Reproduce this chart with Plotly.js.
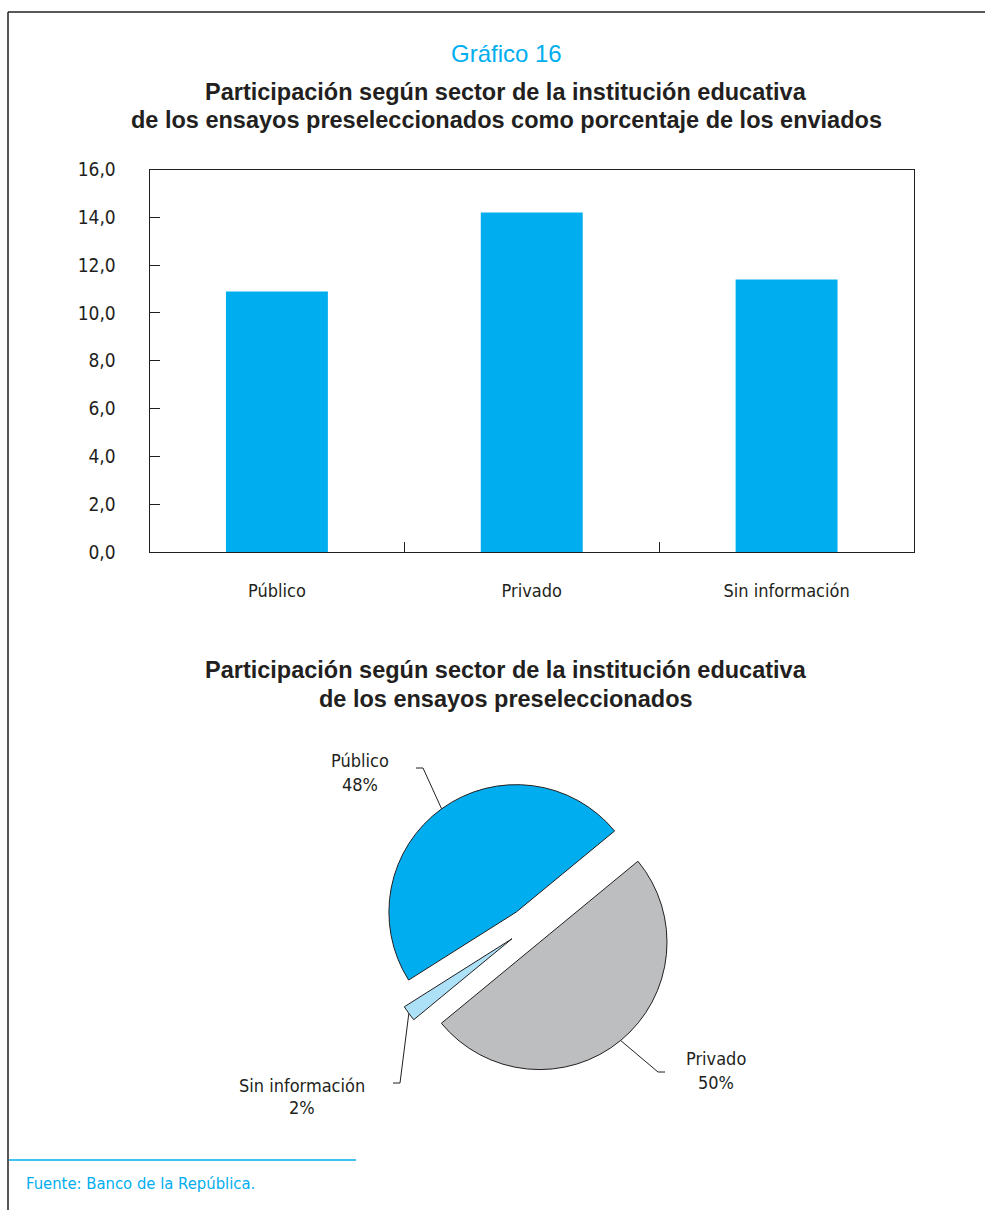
<!DOCTYPE html>
<html>
<head>
<meta charset="utf-8">
<script src="https://cdn.plot.ly/plotly-3.0.1.min.js"></script>
<style>
  html, body { margin: 0; padding: 0; background: #ffffff; }
  #chart { width: 985px; height: 1210px; }
</style>
</head>
<body>
<div id="chart"></div>
<script>
// ---- data ----
const categories = ['Público', 'Privado', 'Sin información'];
const barValues = [10.9, 14.2, 11.4];
const yTickVals = [0, 2, 4, 6, 8, 10, 12, 14, 16];

const pieLabels = ['Privado', 'Sin información', 'Público'];
const pieValues = [50, 2, 48];
const pieColors = ['#BCBEC0', '#ADE1F8', '#00AEEF'];

// ---- layout helpers ----
const W = 985, H = 1210;
const X = px => px / W;
const Y = py => 1 - py / H;

const narrow = '"Liberation Sans Narrow", "DejaVu Sans Condensed", "Arial Narrow", sans-serif';
const sans = '"Liberation Sans", Arial, Helvetica, sans-serif';
const ink = '#231F20';
const cyan = '#00AEEF';

// pie geometry (pixels)
const pieDom = { x0: 381, x1: 674, y0: 781, y1: 1074 };
const piePull = 0.15;
const pieRotation = 50.5;
const pieCx = (pieDom.x0 + pieDom.x1) / 2;
const pieCy = (pieDom.y0 + pieDom.y1) / 2;
const pieR = Math.min(pieDom.x1 - pieDom.x0, pieDom.y1 - pieDom.y0) / (2 * (1 + piePull));

// label placement for pie (elbow, end of leader, text centre)
const pieLabelPos = {
  'Público':         { elbow: [423, 768], end: [416, 768], text: [360, 760], pct: [360, 785] },
  'Privado':         { elbow: [658, 1072], end: [665, 1072], text: [716, 1058], pct: [716, 1082] },
  'Sin información': { elbow: [400, 1083], end: [393, 1083], text: [302, 1085], pct: [302, 1107] }
};

const total = pieValues.reduce((a, b) => a + b, 0);
const shapes = [];
const annotations = [];
const labelSize = 18;

let cum = 0;
pieLabels.forEach((lab, i) => {
  const frac = pieValues[i] / total;
  const mid = (pieRotation + 360 * (cum + frac / 2)) * Math.PI / 180;
  cum += frac;
  const dx = Math.sin(mid), dy = -Math.cos(mid);
  const ex = pieCx + dx * pieR * (1 + piePull);
  const ey = pieCy + dy * pieR * (1 + piePull);
  const p = pieLabelPos[lab];
  shapes.push({
    type: 'path', xref: 'paper', yref: 'paper',
    path: `M ${X(ex)} ${Y(ey)} L ${X(p.elbow[0])} ${Y(p.elbow[1])} L ${X(p.end[0])} ${Y(p.end[1])}`,
    line: { color: ink, width: 1 }
  });
  annotations.push({
    xref: 'paper', yref: 'paper', x: X(p.text[0]), y: Y(p.text[1]),
    xanchor: 'center', yanchor: 'middle', showarrow: false,
    text: lab, font: { family: narrow, size: labelSize, color: ink }
  });
  annotations.push({
    xref: 'paper', yref: 'paper', x: X(p.pct[0]), y: Y(p.pct[1]),
    xanchor: 'center', yanchor: 'middle', showarrow: false,
    text: Math.round(frac * 100) + '%', font: { family: narrow, size: labelSize, color: ink }
  });
});

// frame lines
shapes.push({ type: 'line', xref: 'paper', yref: 'paper', x0: X(8), y0: Y(12), x1: 1, y1: Y(12), line: { color: ink, width: 1.5 } });
shapes.push({ type: 'line', xref: 'paper', yref: 'paper', x0: X(8), y0: Y(12), x1: X(8), y1: 0, line: { color: ink, width: 1.5 } });
// footer rule
shapes.push({ type: 'line', xref: 'paper', yref: 'paper', x0: X(9), y0: Y(1160), x1: X(356), y1: Y(1160), line: { color: cyan, width: 1.5 } });

// titles
annotations.push({ xref: 'paper', yref: 'paper', x: X(506), y: Y(54), xanchor: 'center', yanchor: 'middle', showarrow: false,
  text: 'Gráfico 16', font: { family: sans, size: 24, color: cyan } });
annotations.push({ xref: 'paper', yref: 'paper', x: X(506), y: Y(92), xanchor: 'center', yanchor: 'middle', showarrow: false,
  text: '<b>Participación según sector de la institución educativa</b>', font: { family: sans, size: 23.5, color: ink } });
annotations.push({ xref: 'paper', yref: 'paper', x: X(506), y: Y(120), xanchor: 'center', yanchor: 'middle', showarrow: false,
  text: '<b>de los ensayos preseleccionados como porcentaje de los enviados</b>', font: { family: sans, size: 23.5, color: ink } });
annotations.push({ xref: 'paper', yref: 'paper', x: X(506), y: Y(670), xanchor: 'center', yanchor: 'middle', showarrow: false,
  text: '<b>Participación según sector de la institución educativa</b>', font: { family: sans, size: 23.5, color: ink } });
annotations.push({ xref: 'paper', yref: 'paper', x: X(506), y: Y(699), xanchor: 'center', yanchor: 'middle', showarrow: false,
  text: '<b>de los ensayos preseleccionados</b>', font: { family: sans, size: 23.5, color: ink } });
// source
annotations.push({ xref: 'paper', yref: 'paper', x: X(24), y: Y(1183), xanchor: 'left', yanchor: 'middle', showarrow: false,
  text: 'Fuente: Banco de la República.', font: { family: narrow, size: 16.5, color: cyan } });

const barTrace = {
  type: 'bar', x: categories, y: barValues, width: 0.4,
  marker: { color: cyan, line: { width: 0 } },
  hoverinfo: 'x+y', showlegend: false
};

const pieTrace = {
  type: 'pie', labels: pieLabels, values: pieValues, sort: false,
  direction: 'clockwise', rotation: pieRotation, pull: piePull,
  marker: { colors: pieColors, line: { color: ink, width: 1 } },
  textinfo: 'none', showlegend: false,
  domain: { x: [X(pieDom.x0), X(pieDom.x1)], y: [Y(pieDom.y1), Y(pieDom.y0)] }
};

const layout = {
  width: W, height: H,
  margin: { l: 0, r: 0, t: 0, b: 0, pad: 0 },
  paper_bgcolor: '#ffffff', plot_bgcolor: '#ffffff',
  separators: ',.',
  showlegend: false,
  xaxis: {
    domain: [X(149.5), X(914)], range: [-0.5, 2.5],
    type: 'category', showline: true, mirror: true, linecolor: ink, linewidth: 1,
    ticks: 'inside', tickson: 'boundaries', ticklen: 10, tickcolor: ink, tickwidth: 1,
    showgrid: false, zeroline: false,
    ticklabelstandoff: 22,
    tickfont: { family: narrow, size: labelSize, color: ink }
  },
  yaxis: {
    domain: [Y(552), Y(169.5)], range: [0, 16],
    tickvals: yTickVals, tickformat: '.1f',
    showline: true, mirror: true, linecolor: ink, linewidth: 1,
    ticks: 'inside', ticklen: 10, tickcolor: ink, tickwidth: 1,
    showgrid: false, zeroline: false,
    ticklabelstandoff: 29,
    tickfont: { family: narrow, size: 19, color: ink }
  },
  shapes: shapes,
  annotations: annotations
};

Plotly.newPlot('chart', [barTrace, pieTrace], layout, { displayModeBar: false, staticPlot: true });
</script>
</body>
</html>
